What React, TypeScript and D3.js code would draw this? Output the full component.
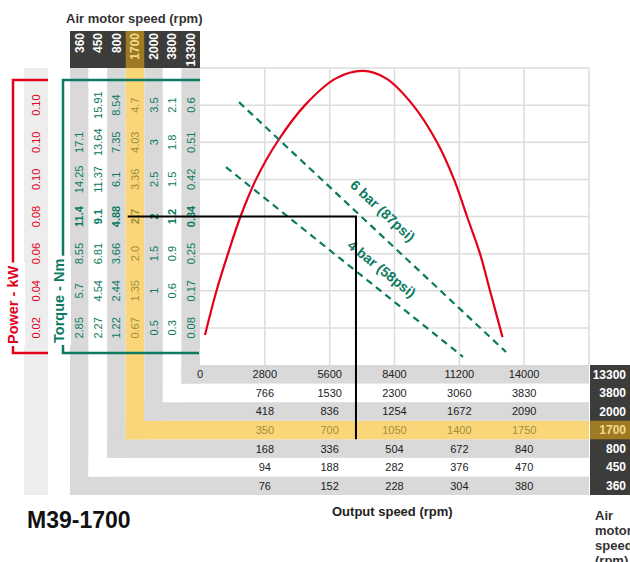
import React, { useEffect, useRef } from "react";
import * as d3 from "d3";

// ---------- data ----------
const airSpeeds = ["360", "450", "800", "1700", "2000", "3800", "13300"];
const highlightSpeed = "1700";

// torque labels per air-motor speed, rows 1 (bottom) .. 7 (top)
const torque360 = ["2.85", "5.7", "8.55", "11.4", "14.25", "17.1", ""];
const torque450 = ["2.27", "4.54", "6.81", "9.1", "11.37", "13.64", "15.91"];
const torque800 = ["1.22", "2.44", "3.66", "4.88", "6.1", "7.35", "8.54"];
const torque1700 = ["0.67", "1.35", "2.0", "2.7", "3.36", "4.03", "4.7"];
const torque2000 = ["0.5", "1", "1.5", "2", "2.5", "3", "3.5"];
const torque3800 = ["0.3", "0.6", "0.9", "1.2", "1.5", "1.8", "2.1"];
const torque13300 = ["0.08", "0.17", "0.25", "0.34", "0.42", "0.51", "0.6"];
const boldRow = 4;

// power labels, rows 1..7
const powerLabels = ["0.02", "0.04", "0.06", "0.08", "0.10", "0.10", "0.10"];

// output speed labels per air-motor speed, grid columns 1..5 (13300 also has 0)
const output13300 = ["0", "2800", "5600", "8400", "11200", "14000"];
const output3800 = ["766", "1530", "2300", "3060", "3830"];
const output2000 = ["418", "836", "1254", "1672", "2090"];
const output1700 = ["350", "700", "1050", "1400", "1750"];
const output800 = ["168", "336", "504", "672", "840"];
const output450 = ["94", "188", "282", "376", "470"];
const output360 = ["76", "152", "228", "304", "380"];

// power curve, x in output rpm (13300 row scale), y in grid rows
const powerRpm = [216, 713, 1209, 1749, 2419, 3326, 4535, 5874, 7040, 8033, 9199, 10236, 10970, 11532, 12093, 12525, 13065];
const powerRows = [0.81, 2.0, 3.0, 4.0, 5.0, 6.0, 7.0, 7.72, 7.92, 7.72, 7.0, 6.0, 5.0, 4.0, 3.0, 2.0, 0.75];

// air pressure torque lines
const pressureLabels = ["6 bar (87psi)", "4 bar (58psi)"];
const pressureRpm = [[1684, 13216], [1123, 11359]];
const pressureRows = [[7.08, 0.35], [5.33, 0.22]];

// operating point (1700 rpm motor): output speed, torque row
const opOutputRpm = 842;
const opRow = 4;

const W = 630;
const H = 562;

export default function App() {
  const ref = useRef<SVGSVGElement>(null);

  useEffect(() => {
    const svg = d3.select(ref.current as SVGSVGElement);
    svg.selectAll("*").remove();
    const font = "'Liberation Sans', Arial, Helvetica, sans-serif";
    const RED = "#e2001a";
    const TEAL = "#0b7a62";
    const GRAY = "#d9d9d9";
    const LIGHT = "#ededed";
    const YELLOW = "#fbd678";
    const DARK = "#3c3c3b";
    const GOLD = "#9e7b22";
    const OLIVE = "#a08f3c";
    const GRID = "#dcdcdc";

    const torqueBy: Record<string, string[]> = {
      "360": torque360, "450": torque450, "800": torque800, "1700": torque1700,
      "2000": torque2000, "3800": torque3800, "13300": torque13300,
    };
    const outputBy: Record<string, string[]> = {
      "13300": output13300, "3800": output3800, "2000": output2000, "1700": output1700,
      "800": output800, "450": output450, "360": output360,
    };

    const colX = d3.scaleBand<string>().domain(airSpeeds).range([70, 200]);
    const rowY = d3.scaleBand<string>().domain([...airSpeeds].reverse()).range([365, 495]);
    const bw = colX.bandwidth();
    const bh = rowY.bandwidth();
    const levelY = d3.scaleLinear().domain([0, 8]).range([365, 68]);
    const gridX = d3.scaleLinear().domain([0, 6]).range([200, 589]);
    const rpmX = d3.scaleLinear().domain([0, 16800]).range([200, 589]);
    const rpm1700X = d3.scaleLinear().domain([0, 2100]).range([200, 589]);
    const rows = d3.range(1, 8);

    const fillFor = (s: string, i: number) => (s === highlightSpeed ? YELLOW : i % 2 === 0 ? GRAY : "#ffffff");

    // power column background
    svg.append("rect").attr("x", 24).attr("y", 68).attr("width", 24).attr("height", 427).attr("fill", LIGHT);

    // L-shaped bands
    airSpeeds.forEach((s, i) => {
      const f = fillFor(s, i);
      const x0 = colX(s)!;
      const y0 = rowY(s)!;
      svg.append("rect").attr("x", x0).attr("y", 68).attr("width", bw).attr("height", y0 + bh - 68).attr("fill", f);
      svg.append("rect").attr("x", x0).attr("y", y0).attr("width", 589 - x0).attr("height", bh).attr("fill", f);
    });

    // grid
    const g = svg.append("g").attr("stroke", GRID).attr("stroke-width", 1.5);
    d3.range(1, 7).forEach((i) => {
      g.append("line").attr("x1", gridX(i)).attr("x2", gridX(i)).attr("y1", 68).attr("y2", 365);
    });
    d3.range(1, 9).forEach((k) => {
      g.append("line").attr("x1", 200).attr("x2", 589).attr("y1", levelY(k)).attr("y2", levelY(k));
    });

    // headers
    svg.append("rect").attr("x", 70).attr("y", 31).attr("width", 130).attr("height", 37).attr("fill", DARK);
    svg.append("rect").attr("x", colX(highlightSpeed)!).attr("y", 31).attr("width", bw).attr("height", 37).attr("fill", GOLD);
    svg.append("rect").attr("x", 590).attr("y", 365).attr("width", 40).attr("height", 130).attr("fill", DARK);
    svg.append("rect").attr("x", 590).attr("y", rowY(highlightSpeed)!).attr("width", 40).attr("height", bh).attr("fill", GOLD);

    airSpeeds.forEach((s) => {
      const c = s === highlightSpeed ? "#f6d88c" : "#ffffff";
      svg.append("text")
        .attr("transform", `translate(${colX(s)! + bw / 2},33) rotate(-90)`)
        .attr("text-anchor", "end").attr("dy", "0.36em")
        .attr("font-family", font).attr("font-size", 12).attr("font-weight", "bold")
        .attr("fill", c).text(s);
      svg.append("text")
        .attr("x", 626).attr("y", rowY(s)! + bh / 2).attr("dy", "0.36em")
        .attr("text-anchor", "end")
        .attr("font-family", font).attr("font-size", 12).attr("font-weight", "bold")
        .attr("fill", c).text(s);
    });

    // brackets
    const line = d3.line<[number, number]>();
    svg.append("path").attr("d", line([[48, 80], [13, 80], [13, 353], [48, 353]]))
      .attr("fill", "none").attr("stroke", RED).attr("stroke-width", 2.5);
    svg.append("path").attr("d", line([[200, 80], [63, 80], [63, 353], [199, 353]]))
      .attr("fill", "none").attr("stroke", TEAL).attr("stroke-width", 2.5);

    const axisLabel = (txt: string, x: number, yEnd: number, color: string) => {
      const t = svg.append("text")
        .attr("transform", `translate(${x},${yEnd}) rotate(-90)`)
        .attr("font-family", font).attr("font-size", 14.5).attr("font-weight", "bold")
        .attr("fill", color).text(txt);
      const bb = (t.node() as SVGTextElement).getBBox();
      const len = bb.width;
      svg.insert("rect", () => t.node() as any)
        .attr("x", x - 7).attr("y", yEnd - len - 3).attr("width", 14).attr("height", len + 5)
        .attr("fill", "#ffffff");
    };
    axisLabel("Power - kW", 18, 344, RED);
    axisLabel("Torque - Nm", 64, 343, TEAL);

    // power labels
    rows.forEach((k, i) => {
      svg.append("text")
        .attr("transform", `translate(36,${levelY(k)}) rotate(-90)`)
        .attr("text-anchor", "middle").attr("dy", "0.36em")
        .attr("font-family", font).attr("font-size", 11)
        .attr("fill", RED).text(powerLabels[i]);
    });

    // torque labels
    airSpeeds.forEach((s) => {
      const arr = torqueBy[s];
      rows.forEach((k, i) => {
        if (!arr[i]) return;
        svg.append("text")
          .attr("transform", `translate(${colX(s)! + bw / 2},${levelY(k)}) rotate(-90)`)
          .attr("text-anchor", "middle").attr("dy", "0.36em")
          .attr("font-family", font).attr("font-size", 11)
          .attr("font-weight", k === boldRow ? "bold" : "normal")
          .attr("fill", s === highlightSpeed ? OLIVE : TEAL).text(arr[i]);
      });
    });

    // output speed labels
    airSpeeds.forEach((s) => {
      const arr = outputBy[s];
      const offset = arr.length === 6 ? 0 : 1;
      arr.forEach((v, i) => {
        svg.append("text")
          .attr("x", gridX(i + offset)).attr("y", rowY(s)! + bh / 2).attr("dy", "0.36em")
          .attr("text-anchor", "middle")
          .attr("font-family", font).attr("font-size", 11)
          .attr("fill", s === highlightSpeed ? OLIVE : "#222").text(v);
      });
    });

    // power curve
    const curve = d3.line<number>()
      .x((_, i) => rpmX(powerRpm[i]))
      .y((_, i) => levelY(powerRows[i]))
      .curve(d3.curveCatmullRom.alpha(0.5));
    svg.append("path").attr("d", curve(powerRpm)).attr("fill", "none")
      .attr("stroke", RED).attr("stroke-width", 2.2);

    // pressure lines
    const labelPlace = [[0.49, 19], [0.61, 18]];
    pressureLabels.forEach((lab, j) => {
      const p0: [number, number] = [rpmX(pressureRpm[j][0]), levelY(pressureRows[j][0])];
      const p1: [number, number] = [rpmX(pressureRpm[j][1]), levelY(pressureRows[j][1])];
      svg.append("path").attr("d", line([p0, p1])).attr("fill", "none")
        .attr("stroke", TEAL).attr("stroke-width", 2.2).attr("stroke-dasharray", "7,5");
      const dx = p1[0] - p0[0], dy = p1[1] - p0[1];
      const len = Math.hypot(dx, dy);
      const ux = dx / len, uy = dy / len;
      const nx = uy, ny = -ux;
      const [t, d] = labelPlace[j];
      const cx = p0[0] + ux * t * len + nx * d;
      const cy = p0[1] + uy * t * len + ny * d;
      const ang = (Math.atan2(uy, ux) * 180) / Math.PI;
      svg.append("text")
        .attr("transform", `translate(${cx},${cy}) rotate(${ang})`)
        .attr("text-anchor", "middle").attr("dy", "0.36em")
        .attr("font-family", font).attr("font-size", 14).attr("font-weight", "bold")
        .attr("fill", TEAL).text(lab);
    });

    // operating point lines
    const opX = rpm1700X(opOutputRpm);
    const opY = levelY(opRow);
    svg.append("path")
      .attr("d", line([[colX(highlightSpeed)! + 2, opY], [opX, opY], [opX, rowY(highlightSpeed)! + bh]]))
      .attr("fill", "none").attr("stroke", "#000").attr("stroke-width", 2);

    // titles
    svg.append("text").attr("x", 66).attr("y", 23)
      .attr("font-family", font).attr("font-size", 13).attr("font-weight", "bold")
      .attr("fill", "#333").text("Air motor speed (rpm)");
    svg.append("text").attr("x", 27).attr("y", 528)
      .attr("font-family", font).attr("font-size", 23).attr("font-weight", "bold")
      .attr("fill", "#111").text("M39-1700");
    svg.append("text").attr("x", 332).attr("y", 516)
      .attr("font-family", font).attr("font-size", 13).attr("font-weight", "bold")
      .attr("fill", "#222").text("Output speed (rpm)");
    ["Air", "motor", "speed", "(rpm)"].forEach((w, i) => {
      svg.append("text").attr("x", 595).attr("y", 520 + i * 15)
        .attr("font-family", font).attr("font-size", 13).attr("font-weight", "bold")
        .attr("fill", "#333").text(w);
    });
  }, []);

  return (
    <svg
      ref={ref}
      width={W}
      height={H}
      style={{ position: "absolute", left: 0, top: 0, display: "block", background: "#fff" }}
    />
  );
}
